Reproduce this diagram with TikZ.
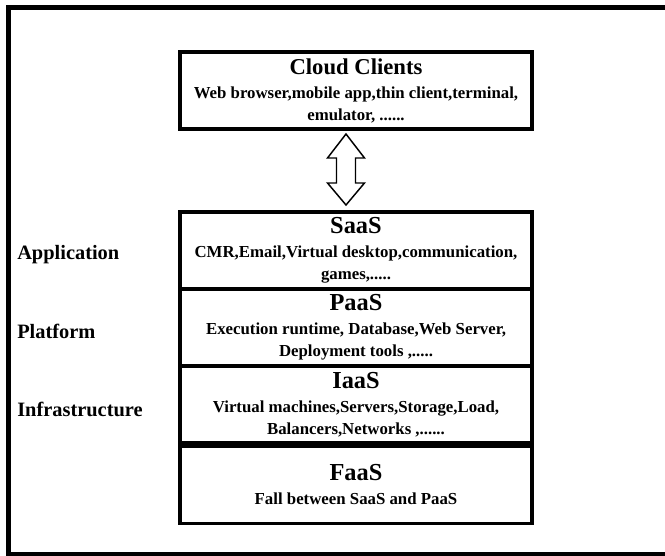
\documentclass[tikz,border=0pt]{standalone}
\usepackage{fontspec}
\setmainfont{Liberation Serif}
\usepackage{tikz}
\usetikzlibrary{positioning}

\tikzset{
    layer/.style={draw, line width=2.3pt, minimum width=264pt,
        minimum height=57.75pt, inner sep=0pt, outer sep=0pt, align=center,
        font=\bfseries\fontsize{12.6}{16.5}\selectfont},
    side/.style={anchor=west, inner sep=0pt,
        font=\bfseries\fontsize{15.3}{18}\selectfont},
    link/.style={draw, line width=1.1pt, line join=miter}
}
\newcommand{\ltitle}[2][18.3]{{\fontsize{#1}{20}\selectfont #2}\\[1.5pt]}

\begin{document}
\begin{tikzpicture}[x=0.75pt,y=-0.75pt]
    \useasboundingbox (0,0) rectangle (665,556);

    % outer frame, open on the right
    \draw[line width=3.75pt] (665,8) -- (8,8) -- (8,554.5) -- (665,554.5);

    \node[layer] (cloud) at (356,90.5) {\ltitle[17]{Cloud Clients}
        Web browser,mobile app,thin client,terminal,\\ emulator, ......};

    \node[layer, below=62.25pt of cloud] (saas) {\ltitle{SaaS}
        CMR,Email,Virtual desktop,communication,\\ games,.....};
    \node[layer, below=0pt of saas] (paas) {\ltitle{PaaS}
        Execution runtime, Database,Web Server,\\ Deployment tools ,.....};
    \node[layer, below=0pt of paas] (iaas) {\ltitle{IaaS}
        Virtual machines,Servers,Storage,Load,\\ Balancers,Networks ,......};
    \node[layer, below=2.6pt of iaas] (faas) {\ltitle{FaaS}
        Fall between SaaS and PaaS};

    % hollow double arrow between clients and stack
    \coordinate (tip) at ([xshift=-7.5pt,yshift=-3.75pt]cloud.south);
    \draw[link] (tip) -- ++(18.5,24) -- ++(-9,0) -- ++(0,25) -- ++(9,0)
        -- ++(-18.5,22) -- ++(-18.5,-22) -- ++(9,0) -- ++(0,-25)
        -- ++(-9,0) -- cycle;

    \node[side] (application) at (17,255) {Application};
    \node[side] (platform) at (17,331) {Platform};
    \node[side] (infrastructure) at (17,409) {Infrastructure};
\end{tikzpicture}
\end{document}
